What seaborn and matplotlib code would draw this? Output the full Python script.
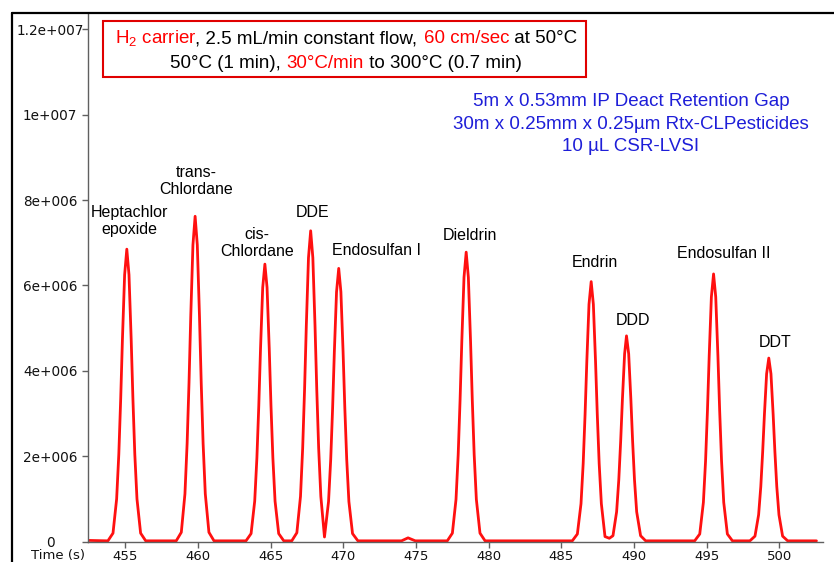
import matplotlib
matplotlib.use("Agg")
import numpy as np
import pandas as pd
import seaborn as sns
import matplotlib.pyplot as plt
from matplotlib.lines import Line2D
from matplotlib.patches import Rectangle

# ---------------- data ----------------
# chromatogram trace: retention time (s) and detector signal (units of 1e6)
time_s = [
    452.45, 453.80,
    454.15, 454.40, 454.55, 454.68, 454.80, 454.95, 455.10, 455.25, 455.40, 455.52, 455.65, 455.80, 456.05,
    456.40, 458.50,
    458.85, 459.10, 459.25, 459.38, 459.50, 459.65, 459.80, 459.95, 460.10, 460.22, 460.35, 460.50, 460.75,
    461.10, 463.30,
    463.65, 463.90, 464.05, 464.18, 464.30, 464.45, 464.60, 464.75, 464.90, 465.02, 465.15, 465.30, 465.55,
    465.90, 466.45,
    466.80, 467.05, 467.20, 467.33, 467.45, 467.60, 467.75, 467.90, 468.05, 468.17, 468.30, 468.45, 468.70,
    468.98, 469.13, 469.26, 469.38, 469.53, 469.68, 469.83, 469.98, 470.10, 470.23, 470.38, 470.63,
    471.00, 474.00, 474.45, 474.95, 477.15,
    477.50, 477.75, 477.90, 478.03, 478.15, 478.30, 478.45, 478.60, 478.75, 478.87, 479.00, 479.15, 479.40,
    479.75, 485.75,
    486.10, 486.35, 486.50, 486.63, 486.75, 486.90, 487.05, 487.20, 487.35, 487.47, 487.60, 487.75, 488.00,
    488.30,
    488.55, 488.80, 488.95, 489.08, 489.20, 489.35, 489.48, 489.63, 489.78, 489.90, 490.03, 490.18, 490.45,
    490.80, 494.17,
    494.52, 494.77, 494.92, 495.05, 495.17, 495.32, 495.47, 495.62, 495.77, 495.89, 496.02, 496.17, 496.42,
    496.77, 497.97,
    498.32, 498.57, 498.72, 498.85, 498.97, 499.12, 499.27, 499.42, 499.57, 499.69, 499.82, 499.97, 500.22,
    500.57, 502.55,
]
signal_1e6 = [
    0.03, 0.02,
    0.20, 1.00, 2.05, 3.35, 4.75, 6.25, 6.85, 6.25, 4.75, 3.35, 2.05, 1.00, 0.20,
    0.02, 0.02,
    0.22, 1.12, 2.30, 3.72, 5.28, 6.95, 7.62, 6.95, 5.28, 3.72, 2.30, 1.12, 0.22,
    0.02, 0.02,
    0.19, 0.95, 1.96, 3.18, 4.52, 5.95, 6.50, 5.95, 4.52, 3.18, 1.96, 0.95, 0.19,
    0.02, 0.02,
    0.21, 1.06, 2.19, 3.56, 5.05, 6.65, 7.28, 6.65, 5.05, 3.56, 2.19, 1.06, 0.11,
    0.94, 1.93, 3.13, 4.45, 5.85, 6.40, 5.85, 4.45, 3.13, 1.93, 0.94, 0.19,
    0.02, 0.02, 0.09, 0.02, 0.02,
    0.20, 0.99, 2.04, 3.32, 4.70, 6.19, 6.78, 6.19, 4.70, 3.32, 2.04, 0.99, 0.20,
    0.02, 0.02,
    0.18, 0.89, 1.83, 2.98, 4.22, 5.56, 6.09, 5.56, 4.22, 2.98, 1.83, 0.89, 0.12,
    0.08,
    0.14, 0.70, 1.45, 2.36, 3.34, 4.40, 4.82, 4.40, 3.34, 2.36, 1.45, 0.70, 0.14,
    0.02, 0.02,
    0.18, 0.92, 1.89, 3.07, 4.35, 5.73, 6.27, 5.73, 4.35, 3.07, 1.89, 0.92, 0.18,
    0.02, 0.02,
    0.13, 0.63, 1.29, 2.11, 2.98, 3.93, 4.30, 3.93, 2.98, 2.11, 1.29, 0.63, 0.13,
    0.02, 0.02,
]

compounds = ["Heptachlor\nepoxide", "trans-\nChlordane", "cis-\nChlordane", "DDE",
             "Endosulfan I", "Dieldrin", "Endrin", "DDD", "Endosulfan II", "DDT"]

x_ticks = [455, 460, 465, 470, 475, 480, 485, 490, 495, 500]
x_tick_labels = ["455", "460", "465", "470", "475", "480", "485", "490", "495", "500"]
y_ticks = [0, 2, 4, 6, 8, 10, 12]
y_tick_labels = ["0", "2e+006", "4e+006", "6e+006", "8e+006", "1e+007", "1.2e+007"]

box_line1 = [("H$_\\mathregular{2}$ carrier", "red"), (", 2.5 mL/min constant flow, ", "black"),
             ("60 cm/sec", "red"), (" at 50°C", "black")]
box_line2 = [("50°C (1 min), ", "black"), ("30°C/min", "red"), (" to 300°C (0.7 min)", "black")]
column_lines = ["5m x 0.53mm IP Deact Retention Gap",
                "30m x 0.25mm x 0.25µm Rtx-CLPesticides",
                "10 µL CSR-LVSI"]

# ---------------- layout (not data) ----------------
label_pos = [(455.25, 7.51), (459.90, 8.45), (464.04, 7.00), (467.90, 7.70), (472.30, 6.83),
             (478.72, 7.16), (487.33, 6.54), (489.94, 5.18), (496.16, 6.74), (499.68, 4.66)]

W, H = 834, 562
sns.set_theme(style="white")
plt.rcParams["font.family"] = ["Liberation Sans", "DejaVu Sans"]
plt.rcParams["mathtext.fontset"] = "custom"
plt.rcParams["mathtext.rm"] = "Liberation Sans"
plt.rcParams["mathtext.it"] = "Liberation Sans:italic"
plt.rcParams["mathtext.bf"] = "Liberation Sans:bold"

fig = plt.figure(figsize=(W / 100, H / 100), dpi=100)
fig.patch.set_facecolor("white")
ax = fig.add_axes([88 / W, 1 - 541.7 / H, (823 - 88) / W, (541.7 - 13) / H])
ax.set_facecolor("white")

df = pd.DataFrame({"time": time_s, "signal": signal_1e6})
sns.lineplot(data=df, x="time", y="signal", ax=ax, color="#ff1010", lw=2.0,
             estimator=None, sort=False, legend=False)

ax.set_xlim(452.43, 503.0)
ax.set_ylim(0, 12.38)
ax.set_xlabel("")
ax.set_ylabel("")
for s in ["top", "right"]:
    ax.spines[s].set_visible(False)
for s in ["left", "bottom"]:
    ax.spines[s].set_color("#606060")
    ax.spines[s].set_linewidth(1.0)

ax.set_xticks(x_ticks)
ax.set_xticklabels(x_tick_labels, fontfamily="DejaVu Sans", fontsize=9.5, color="#111111")
ax.set_yticks(y_ticks)
ax.set_yticklabels(y_tick_labels, fontfamily="DejaVu Sans", fontsize=9.8, color="#111111")
ax.tick_params(axis="x", direction="out", length=4.3, width=1, color="#606060", pad=1.5, bottom=True)
ax.tick_params(axis="y", direction="out", length=4.3, width=1, color="#606060", pad=23, left=True)
for lab in ax.get_yticklabels():
    lab.set_horizontalalignment("center")

fig.text(58 / W, 1 - 549.5 / H, "Time (s)", family="DejaVu Sans", fontsize=9.5,
         color="#111111", ha="center", va="top")

# compound labels
for name, (lx, ly) in zip(compounds, label_pos):
    ax.text(lx, ly, name, ha="center", va="center", fontsize=11.5, color="black",
            linespacing=1.15)

# outer frame (left and top edges)
fx = 12 / W
fy = 1 - 12.5 / H
fig.add_artist(Line2D([fx, fx], [0, fy], transform=fig.transFigure, color="black", lw=1.6))
fig.add_artist(Line2D([fx, 1.0], [fy, fy], transform=fig.transFigure, color="black", lw=1.6))

# red conditions box
fig.add_artist(Rectangle((103 / W, 1 - 77 / H), (586 - 103) / W, (77 - 20.7) / H,
                         transform=fig.transFigure, fill=False, edgecolor="#e00000", lw=1.5))

renderer = fig.canvas.get_renderer()
FS_BOX = 13.5


def text_width(s):
    t = fig.text(0, 0, s + "|", fontsize=FS_BOX)
    w = t.get_window_extent(renderer).width
    t.remove()
    return w


def colored_line(segments, xc_px, baseline_px):
    bar = text_width("")
    full = "".join(s for s, _ in segments)
    total = text_width(full) - bar
    x0 = xc_px - total / 2
    prefix = ""
    for s, c in segments:
        off = text_width(prefix) - bar if prefix else 0
        fig.text((x0 + off) / W, 1 - baseline_px / H, s, color=c, fontsize=FS_BOX,
                 ha="left", va="baseline")
        prefix += s


colored_line(box_line1, 346, 43)
colored_line(box_line2, 346, 67.5)

for line, base in zip(column_lines, [106, 129, 151]):
    fig.text(631 / W, 1 - base / H, line, color="#1e1ed8", fontsize=FS_BOX,
             ha="center", va="baseline")

fig.savefig("out.png", dpi=100)
